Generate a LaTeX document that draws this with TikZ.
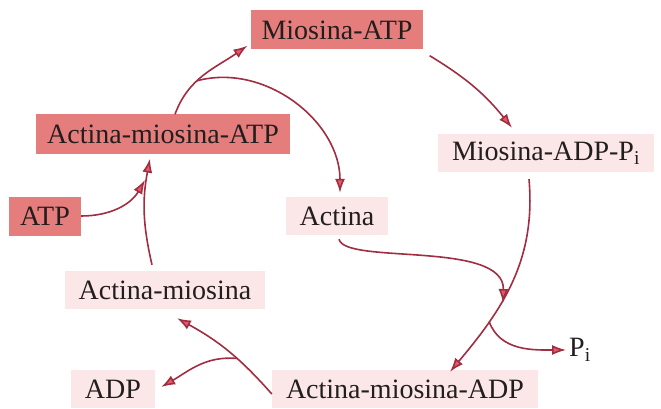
\documentclass[tikz,border=0pt]{standalone}
\usepackage{fontspec}
\setmainfont{Liberation Serif}
\usepackage{tikz}
\usetikzlibrary{arrows.meta,positioning}
\definecolor{hotfill}{RGB}{229,125,125}
\definecolor{palefill}{RGB}{251,231,231}
\definecolor{arrowred}{RGB}{160,45,65}
\definecolor{tipred}{RGB}{230,90,100}
\definecolor{inkgray}{RGB}{35,30,30}
\tikzset{hot/.style={fill=hotfill,minimum height=39pt,inner xsep=11pt,font=\fontsize{28}{30}\selectfont,text=inkgray},pale/.style={fill=palefill,minimum height=38pt,inner xsep=14pt,font=\fontsize{28}{30}\selectfont,text=inkgray},txt/.style={inner sep=3pt,font=\fontsize{28}{30}\selectfont,text=inkgray},flow/.style={-{Latex[length=14pt,width=10pt,fill=tipred]},line width=1.6pt,draw=arrowred}}
\begin{document}
\begin{tikzpicture}[x=1pt,y=1pt]
\useasboundingbox (0,0) rectangle (661,-409);
\node[hot] (matp) at (337,-30) {Miosina-ATP};
\node[hot] (amatp) at (163,-134) {Actina-miosina-ATP};
\node[hot] (atp) at (45,-216) {ATP};
\node[pale] (madp) at (546,-153) {Miosina-ADP-P\textsubscript{i}};
\node[pale] (actina) at (337,-216) {Actina};
\node[pale] (am) at (165,-290) {Actina-miosina};
\node[txt] (pi) at (580,-350) {P\textsubscript{i}};
\node[pale] (adp) at (113,-389) {ADP};
\node[pale] (amadp) at (405,-389) {Actina-miosina-ADP};
\coordinate (join) at (503,-303);
\coordinate (atpin) at (145,-180);
\draw[flow] ([xshift=12pt]amatp.north) to[out=70,in=215] coordinate[pos=0.4] (fork) ([xshift=-3pt,yshift=4pt]matp.south west);
\draw[flow] (fork) to[out=15,in=90] ([xshift=3pt,yshift=4pt]actina.north);
\draw[flow] ([xshift=6pt,yshift=-6pt]matp.south east) to[bend left=10] ([xshift=-34pt,yshift=6pt]madp.north);
\draw[flow] ([xshift=-17pt,yshift=-7pt]madp.south) to[out=-85,in=50] coordinate[pos=0.72] (pifork) ([xshift=45pt,yshift=-2pt]amadp.north);
\draw[flow] ([xshift=2pt,yshift=-4pt]actina.south) .. controls (345,-265) and (505,-240) .. (join);
\draw[flow] (pifork) to[out=-70,in=180] (pi.west);
\draw[flow] ([yshift=-5pt]amadp.west) to[bend right=10] coordinate[pos=0.4] (adpfork) ([xshift=12pt,yshift=-9pt]am.south);
\draw[flow] (adpfork) to[out=175,in=30] ([xshift=6pt,yshift=2pt]adp.east);
\draw[flow] ([xshift=-13pt,yshift=6pt]am.north) to[bend left=12] ([xshift=-13pt,yshift=-5pt]amatp.south);
\draw[flow] (atp.east) to[out=0,in=240] (atpin);
\end{tikzpicture}
\end{document}
